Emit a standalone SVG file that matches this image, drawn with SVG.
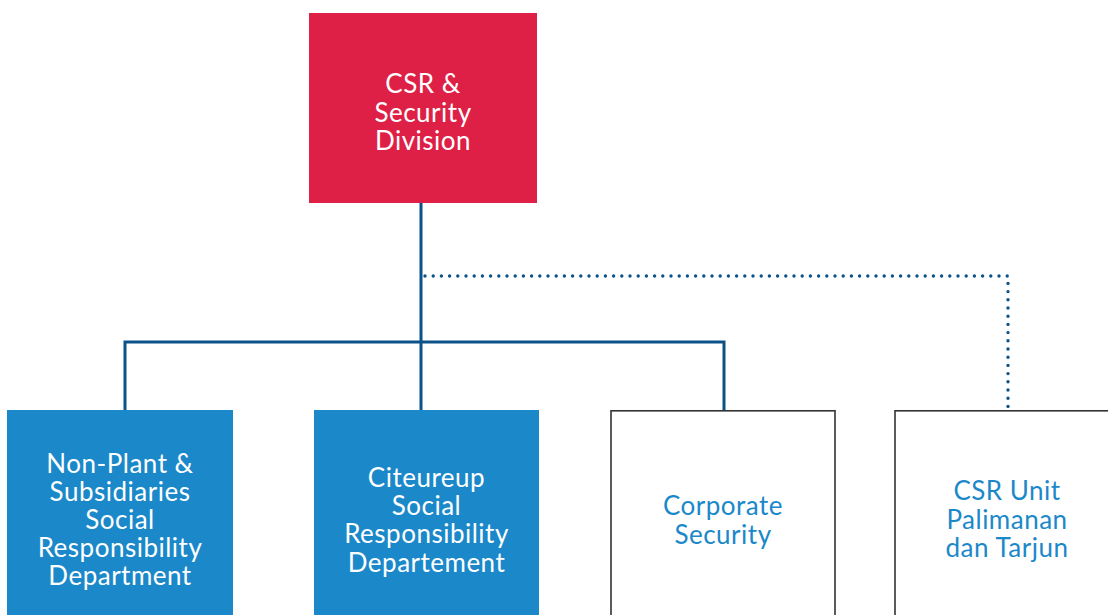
<svg xmlns="http://www.w3.org/2000/svg" width="1108" height="615" viewBox="0 0 1108 615">
<style>
.t{font-family:Lato,"Noto Sans",sans-serif;font-size:26px;letter-spacing:0.5px;text-anchor:middle}
.w{fill:#ffffff}
.b{fill:#1B88C9}
.blue{fill:#1B88C9}
.white{fill:#ffffff;stroke:#333333;stroke-width:1.6}
.ln{fill:none;stroke:#0B5288;stroke-width:3}
.dot{fill:none;stroke:#0B5288;stroke-width:3.4;stroke-dasharray:0 8.2;stroke-linecap:round}
</style>
<rect width="1108" height="615" fill="#ffffff"/>
<g id="connectors">
<path class="ln" d="M421 203V410M125 410V342H724V410"/>
<path class="dot" d="M425 276H1008V408"/>
</g>
<g id="n-division">
<rect x="309" y="13" width="228" height="190" fill="#DE2046"/>
<text class="t w" x="423" y="93">CSR &amp;</text>
<text class="t w" x="423" y="122">Security</text>
<text class="t w" x="423" y="150">Division</text>
</g>
<g id="n-nonplant">
<rect class="blue" x="7" y="410" width="226" height="210"/>
<text class="t w" x="120" y="473">Non-Plant &amp;</text>
<text class="t w" x="120" y="501">Subsidiaries</text>
<text class="t w" x="120" y="529">Social</text>
<text class="t w" x="120" y="557">Responsibility</text>
<text class="t w" x="120" y="585">Department</text>
</g>
<g id="n-citeureup">
<rect class="blue" x="314" y="410" width="225" height="210"/>
<text class="t w" x="426.5" y="487">Citeureup</text>
<text class="t w" x="426.5" y="515">Social</text>
<text class="t w" x="426.5" y="543">Responsibility</text>
<text class="t w" x="426.5" y="572">Departement</text>
</g>
<g id="n-security">
<rect class="white" x="611" y="410.8" width="224" height="210"/>
<text class="t b" x="723" y="515">Corporate</text>
<text class="t b" x="723" y="544">Security</text>
</g>
<g id="n-palimanan">
<rect class="white" x="895" y="410.8" width="220" height="210"/>
<text class="t b" x="1007" y="500">CSR Unit</text>
<text class="t b" x="1007" y="529">Palimanan</text>
<text class="t b" x="1007" y="557">dan Tarjun</text>
</g>
</svg>
